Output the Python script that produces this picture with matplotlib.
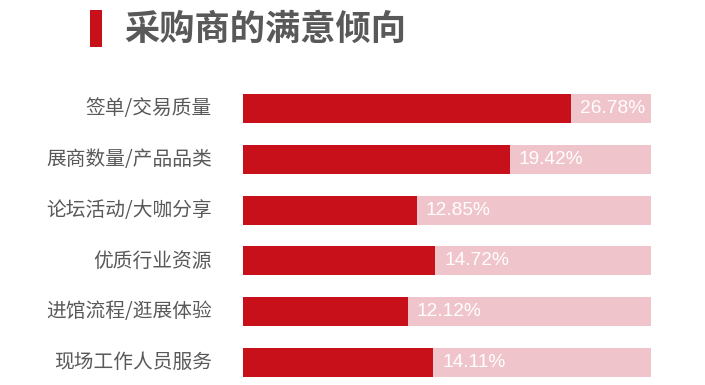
import matplotlib
matplotlib.use("Agg")
import matplotlib.pyplot as plt

# ---- data ----
title = "采购商的满意倾向"
categories = ["签单/交易质量", "展商数量/产品品类", "论坛活动/大咖分享",
              "优质行业资源", "进馆流程/逛展体验", "现场工作人员服务"]
percent_values = [26.78, 19.42, 12.85, 14.72, 12.12, 14.11]
# red bar length as share of the full (pink) track
bar_fill = [0.804, 0.654, 0.426, 0.471, 0.404, 0.466]
track_full = [1.0] * len(categories)

RED = "#C8101A"
PINK = "#F0C4CB"
GRAY = "#595959"

W, H = 705, 385
fig = plt.figure(figsize=(W / 100, H / 100), dpi=100)
fig.patch.set_facecolor("white")

# axes placed in pixel terms
left, right, top, bottom = 243, 651, 83, 385
ax = fig.add_axes([left / W, (H - bottom) / H, (right - left) / W, (bottom - top) / H])
ax.set_xlim(0, 1)
ax.set_ylim(5.443, -0.502)
ax.axis("off")

ypos = list(range(len(categories)))
bh = 0.571
ax.barh(ypos, track_full, height=bh, color=PINK, linewidth=0)
ax.barh(ypos, bar_fill, height=bh, color=RED, linewidth=0)

for y, cat, f, v in zip(ypos, categories, bar_fill, percent_values):
    ax.text(-0.076, y, cat, ha="right", va="center", fontsize=14.2, color=GRAY,
            family=["Noto Sans CJK SC", "DejaVu Sans"])
    ax.text(f + 0.022, y, f"{v:.2f}%", ha="left", va="center", fontsize=13.8,
            color="white", family=["Liberation Sans", "DejaVu Sans"])

# title marker and title
fig.patches.append(plt.Rectangle((90 / W, (H - 47) / H), 12 / W, 37 / H,
                                 transform=fig.transFigure, color=RED, linewidth=0))
fig.text(124 / W, (H - 29) / H, title, ha="left", va="center", fontsize=25.4,
         fontweight="bold", color=GRAY, family=["Noto Sans CJK SC", "DejaVu Sans"])

fig.savefig("out.png", dpi=100)
